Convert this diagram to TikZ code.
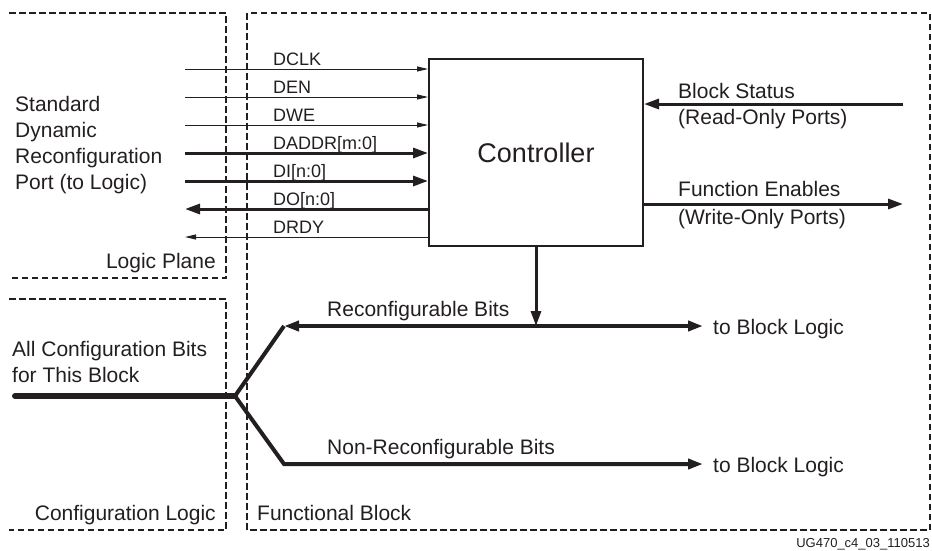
\documentclass[tikz,border=0pt]{standalone}
\usepackage{fontspec}
\setmainfont{Liberation Sans}
\usetikzlibrary{arrows.meta}
\definecolor{ink}{HTML}{231F20}
\newcommand{\lbltxt}{\fontsize{21}{26}\selectfont}
\newcommand{\sigtxt}{\fontsize{18}{21}\selectfont}

\begin{document}
\begin{tikzpicture}[x=1pt, y=-1pt, color=ink,
    region/.style={line width=1.5pt, dash pattern=on 6.5pt off 3.5pt},
    txt/.style={anchor=base west, inner sep=0pt, font=\lbltxt},
    sigtext/.style={anchor=base west, inner sep=0pt, font=\sigtxt},
    thinsig/.style={line width=1pt, -{Triangle[length=11pt,width=5pt]}},
    bussig/.style={line width=3pt, -{Triangle[length=15pt,width=10pt]}},
    cfgbus/.style={line width=4pt, line join=miter}]
  \useasboundingbox (0,0) rectangle (932,550);

  % Dashed regions (left ones open at the left)
  \draw[region] (9,13) -- (226,13) -- (226,278) -- (9,278);
  \draw[region] (9,299) -- (226,299) -- (226,530) -- (9,530);
  \draw[region] (247,13) rectangle (930,530);
  \node[txt, anchor=base east] (lplane) at (216,268) {Logic Plane};
  \node[txt, anchor=base east] (cfglogic) at (216,520) {Configuration Logic};
  \node[txt] (fblock) at (257,520) {Functional Block};

  % Controller
  \node[draw, line width=2pt, minimum width=214pt, minimum height=187pt,
        inner sep=0pt, font=\fontsize{27}{32}\selectfont] (ctrl) at (536,152.5) {Controller};

  % DRP port (to logic)
  \node[txt] (std) at (15,111) {Standard};
  \node[txt] (dyn) at (15,137) {Dynamic};
  \node[txt] (rcf) at (15,163) {Reconfiguration};
  \node[txt] (prt) at (15,189) {Port (to Logic)};

  \coordinate (dclk) at (185,69);
  \coordinate (den) at (185,97);
  \coordinate (dwe) at (185,125);
  \coordinate (daddr) at (185,153);
  \coordinate (di) at (185,181);
  \coordinate (do) at (185,209);
  \coordinate (drdy) at (185,237);
  \draw[thinsig] (dclk) -- (dclk -| ctrl.west);
  \draw[thinsig] (den) -- (den -| ctrl.west);
  \draw[thinsig] (dwe) -- (dwe -| ctrl.west);
  \draw[bussig] (daddr) -- (daddr -| ctrl.west);
  \draw[bussig] (di) -- (di -| ctrl.west);
  \draw[bussig] (do -| ctrl.west) -- (do);
  \draw[thinsig] (drdy -| ctrl.west) -- (drdy);
  \node[sigtext] (ldclk) at (273,65) {DCLK};
  \node[sigtext] (lden) at (273,93) {DEN};
  \node[sigtext] (ldwe) at (273,121) {DWE};
  \node[sigtext] (ldaddr) at (273,149) {DADDR[m:0]};
  \node[sigtext] (ldi) at (273,177) {DI[n:0]};
  \node[sigtext] (ldo) at (273,205) {DO[n:0]};
  \node[sigtext] (ldrdy) at (273,233) {DRDY};

  % Status and enables
  \coordinate (stat) at (903,104);
  \coordinate (fen) at (903,204);
  \draw[bussig] (stat) -- (stat -| ctrl.east);
  \draw[bussig] (fen -| ctrl.east) -- (fen);
  \node[txt] (lstat) at (678,98) {Block Status};
  \node[txt] (lro) at (678,124) {(Read-Only Ports)};
  \node[txt] (lfen) at (678,196) {Function Enables};
  \node[txt] (lwo) at (678,224) {(Write-Only Ports)};

  % Configuration bits
  \coordinate (cfgin) at (15,396);
  \coordinate (fork) at (235,396);
  \coordinate (rtop) at (284,326);
  \coordinate (rbot) at (284,464);
  \coordinate (rend) at (703,326);
  \coordinate (nend) at (703,464);
  \draw[line width=6pt, line cap=round] (cfgin) -- (fork);
  \draw[cfgbus] (fork) -- (rtop);
  \draw[cfgbus, {Triangle[length=15pt,width=10pt]}-{Triangle[length=15pt,width=10pt]}] (rtop) -- (rend);
  \draw[cfgbus, -{Triangle[length=15pt,width=10pt]}] (fork) -- (rbot) -- (nend);
  \draw[bussig] (ctrl.south) -- (ctrl.south |- rtop);
  \node[txt] (lall) at (12,356) {All Configuration Bits};
  \node[txt] (lfor) at (12,382) {for This Block};
  \node[txt] (lrb) at (327,316) {Reconfigurable Bits};
  \node[txt] (lnrb) at (327,454) {Non-Reconfigurable Bits};
  \node[txt] (tbl1) at (713,334) {to Block Logic};
  \node[txt] (tbl2) at (713,472) {to Block Logic};

  % Figure tag
  \node[anchor=base east, inner sep=0pt, font=\fontsize{13}{16}\selectfont] (tag) at (930,547) {UG470\_c4\_03\_110513};
\end{tikzpicture}
\end{document}
